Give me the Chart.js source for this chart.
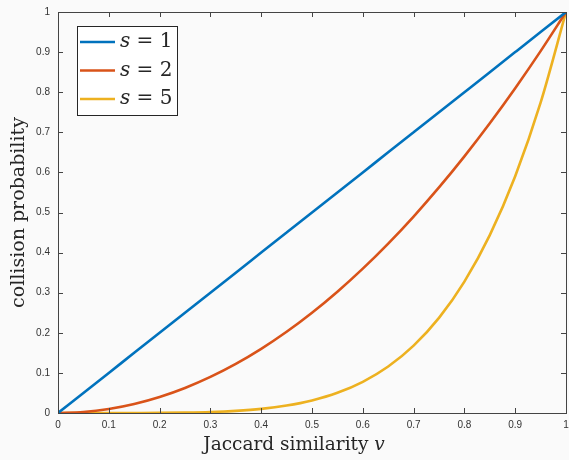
<!DOCTYPE html>
<html>
<head>
<meta charset="utf-8">
<script src="https://cdn.jsdelivr.net/npm/chart.js@4/dist/chart.umd.min.js"></script>
<style>
  html, body { margin: 0; padding: 0; background: #fafafa; }
  #wrap { width: 569px; height: 460px; position: relative; }
</style>
</head>
<body>
<div id="wrap"><canvas id="chart" width="569" height="460"></canvas></div>
<script>
// values
const vValues = [0, 0.05, 0.1, 0.15, 0.2, 0.25, 0.3, 0.35, 0.4, 0.45, 0.5, 0.55, 0.6, 0.65, 0.7, 0.75, 0.8, 0.85, 0.9, 0.95, 1];
const s1Values = [0, 0.05, 0.1, 0.15, 0.2, 0.25, 0.3, 0.35, 0.4, 0.45, 0.5, 0.55, 0.6, 0.65, 0.7, 0.75, 0.8, 0.85, 0.9, 0.95, 1];
const s2Values = [0, 0.0025, 0.01, 0.0225, 0.04, 0.0625, 0.09, 0.1225, 0.16, 0.2025, 0.25, 0.3025, 0.36, 0.4225, 0.49, 0.5625, 0.64, 0.7225, 0.81, 0.9025, 1];
const s5Values = [0, 0, 0, 0.0001, 0.0003, 0.001, 0.0024, 0.0053, 0.0102, 0.0185, 0.0313, 0.0503, 0.0778, 0.116, 0.1681, 0.2373, 0.3277, 0.4437, 0.5905, 0.7738, 1];
const seriesNames = ["1", "2", "5"];
const seriesColors = ["#0072BD", "#D95319", "#EDB120"];
const xTicks = [0, 0.1, 0.2, 0.3, 0.4, 0.5, 0.6, 0.7, 0.8, 0.9, 1];
const yTicks = [0, 0.1, 0.2, 0.3, 0.4, 0.5, 0.6, 0.7, 0.8, 0.9, 1];
const xTitle = "Jaccard similarity ";
const xTitleVar = "v";
const yTitle = "collision probability";

function toPoints(ys) {
  return ys.map((y, i) => ({ x: vValues[i], y: y }));
}

const allSeries = [s1Values, s2Values, s5Values];
const datasets = allSeries.map((ys, i) => ({
  label: "s = " + seriesNames[i],
  data: toPoints(ys),
  borderColor: seriesColors[i],
  backgroundColor: seriesColors[i],
  borderWidth: 2.6,
  pointRadius: 0,
  cubicInterpolationMode: 'monotone',
  fill: false
}));

const axisColor = "#444";
const serif = "'DejaVu Serif', 'Liberation Serif', serif";

// MATLAB style box, inward ticks, titles and legend
const matlabAxes = {
  id: 'matlabAxes',
  afterDraw(chart) {
    const ctx = chart.ctx;
    const a = chart.chartArea;
    const xs = chart.scales.x;
    const ys = chart.scales.y;
    ctx.save();
    ctx.strokeStyle = axisColor;
    ctx.lineWidth = 1;
    ctx.strokeRect(Math.round(a.left) + 0.5, Math.round(a.top) + 0.5,
      Math.round(a.right - a.left), Math.round(a.bottom - a.top));
    const len = 5;
    ctx.beginPath();
    xTicks.forEach((t) => {
      const px = Math.round(xs.getPixelForValue(t)) + 0.5;
      ctx.moveTo(px, a.bottom); ctx.lineTo(px, a.bottom - len);
      ctx.moveTo(px, a.top); ctx.lineTo(px, a.top + len);
    });
    yTicks.forEach((t) => {
      const py = Math.round(ys.getPixelForValue(t)) + 0.5;
      ctx.moveTo(a.left, py); ctx.lineTo(a.left + len, py);
      ctx.moveTo(a.right, py); ctx.lineTo(a.right - len, py);
    });
    ctx.stroke();

    // axis titles
    ctx.fillStyle = "#262626";
    ctx.font = "18.5px " + serif;
    ctx.textBaseline = 'alphabetic';
    const w1 = ctx.measureText(xTitle).width;
    ctx.font = "italic 18.5px " + serif;
    const w2 = ctx.measureText(xTitleVar).width;
    let sx = 294 - (w1 + w2) / 2;
    ctx.font = "18.5px " + serif;
    ctx.textAlign = 'left';
    ctx.fillText(xTitle, sx, 450);
    ctx.font = "italic 18.5px " + serif;
    ctx.fillText(xTitleVar, sx + w1, 450);

    ctx.save();
    ctx.translate(24, (a.top + a.bottom) / 2);
    ctx.rotate(-Math.PI / 2);
    ctx.font = "19px " + serif;
    ctx.textAlign = 'center';
    ctx.fillText(yTitle, 0, 0);
    ctx.restore();

    // legend
    const lx = 77.5, ly = 26.5, lw = 100, lh = 89;
    ctx.fillStyle = "#ffffff";
    ctx.fillRect(lx, ly, lw, lh);
    ctx.strokeStyle = "#262626";
    ctx.strokeRect(lx, ly, lw, lh);
    datasets.forEach((ds, i) => {
      const yy = 42 + i * 28.5;
      ctx.strokeStyle = ds.borderColor;
      ctx.lineWidth = 2.6;
      ctx.beginPath();
      ctx.moveTo(80, yy); ctx.lineTo(115, yy);
      ctx.stroke();
      ctx.fillStyle = "#262626";
      ctx.textAlign = 'left';
      ctx.textBaseline = 'middle';
      ctx.font = "italic 20px " + serif;
      ctx.fillText("s", 120, yy);
      const ws = ctx.measureText("s").width;
      ctx.font = "20px " + serif;
      ctx.fillText(" = " + seriesNames[i], 120 + ws, yy);
    });
    ctx.restore();
  }
};

new Chart(document.getElementById('chart'), {
  type: 'line',
  data: { datasets: datasets },
  options: {
    responsive: false,
    animation: false,
    layout: { padding: { top: 12, right: 3, left: 0, bottom: 0 } },
    plugins: { legend: { display: false }, tooltip: { enabled: false } },
    scales: {
      x: {
        type: 'linear',
        min: 0, max: 1,
        afterBuildTicks: (s) => { s.ticks = xTicks.map(v => ({ value: v })); },
        afterFit: (s) => { s.height = 47; s.paddingLeft = 0; s.paddingRight = 0; },
        grid: { display: false, drawTicks: false },
        border: { display: false },
        ticks: {
          color: "#333", padding: 6,
          font: { family: "'Liberation Sans', Arial, sans-serif", size: 10 },
          maxRotation: 0,
          callback: (v) => String(v)
        }
      },
      y: {
        type: 'linear',
        min: 0, max: 1,
        afterBuildTicks: (s) => { s.ticks = yTicks.map(v => ({ value: v })); },
        afterFit: (s) => { s.width = 58; s.paddingTop = 0; s.paddingBottom = 0; },
        grid: { display: false, drawTicks: false },
        border: { display: false },
        ticks: {
          color: "#333", padding: 8,
          font: { family: "'Liberation Sans', Arial, sans-serif", size: 10 },
          callback: (v) => String(v)
        }
      }
    }
  },
  plugins: [matlabAxes]
});
</script>
</body>
</html>
